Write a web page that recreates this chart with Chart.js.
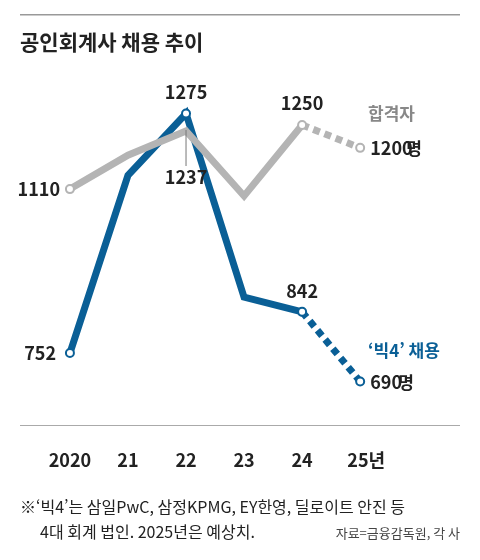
<!DOCTYPE html>
<html lang="ko">
<head>
<meta charset="UTF-8">
<script src="https://cdn.jsdelivr.net/npm/chart.js"></script>
<style>
  body { margin: 0; background: #fff; }
  #wrap { position: relative; width: 480px; height: 560px; }
</style>
</head>
<body>
<div id="wrap"><canvas id="chart" width="480" height="560"></canvas></div>
<script>
const years = [2020, 2021, 2022, 2023, 2024, 2025];
const yearLabels = ['2020', '21', '22', '23', '24', '25년'];
const passed = [1110, 1184, 1237, 1095, 1250, 1200];   // 합격자
const big4 = [752, 1140, 1275, 874, 842, 690];          // '빅4' 채용

const gray = '#b4b4b4';
const blue = '#0a5f96';
const numFont = 'bold 18px "Liberation Sans Narrow", "Noto Sans CJK KR", sans-serif';
const korFont = 'bold 17px "Noto Sans CJK KR", sans-serif';

function pts(arr) { return arr.map((v, i) => ({ x: years[i], y: v })); }

const decor = {
  id: 'decor',
  afterDraw(chart) {
    const c = chart.ctx, xs = chart.scales.x, ys = chart.scales.y;
    const X = i => xs.getPixelForValue(years[i]);
    const Y = v => ys.getPixelForValue(v);
    c.save();
    // top rule & title
    c.fillStyle = '#999'; c.fillRect(20, 14, 440, 1.5);
    c.fillStyle = '#222'; c.font = 'bold 21px "Noto Sans CJK KR", sans-serif';
    c.textBaseline = 'alphabetic'; c.textAlign = 'left';
    c.fillText('공인회계사 채용 추이', 20, 50);
    // axis
    c.fillStyle = '#aaa'; c.fillRect(20, 425, 440, 1);
    c.fillStyle = '#222'; c.font = numFont; c.textAlign = 'center';
    yearLabels.forEach((t, i) => c.fillText(t, X(i) + (i === 5 ? 6 : 0), 467));
    // value labels
    c.fillStyle = '#222';
    c.fillText('1275', X(2), 99);
    c.fillText('1237', X(2), 184);
    c.fillStyle = '#777'; c.fillRect(X(2) - 0.5, 130, 1, 36); c.fillStyle = '#222';
    c.textAlign = 'right'; c.fillText('1110', 60, 196); c.fillText('752', 56, 360);
    c.textAlign = 'center'; c.fillText('1250', X(4), 110); c.fillText('842', X(4), 298);
    c.textAlign = 'left'; c.fillText('1200', X(5) + 10, 155); c.fillText('690', X(5) + 10, 389);
    c.font = korFont;
    c.fillText('명', X(5) + 46, 155); c.fillText('명', X(5) + 38, 389);
    c.fillStyle = '#888'; c.fillText('합격자', 368, 120);
    c.fillStyle = blue; c.fillText('‘빅4’ 채용', 368, 357);
    // footnote
    c.fillStyle = '#222'; c.font = '16px "Noto Sans CJK KR", sans-serif';
    c.fillText('※‘빅4’는 삼일PwC, 삼정KPMG, EY한영, 딜로이트 안진 등', 20, 513);
    c.fillText('4대 회계 법인. 2025년은 예상치.', 40, 538);
    c.font = '13px "Noto Sans CJK KR", sans-serif'; c.fillStyle = '#444';
    c.textAlign = 'right'; c.fillText('자료=금융감독원, 각 사', 460, 538);
    c.restore();
  }
};

function ds(data, color, radii) {
  return {
    data: pts(data), borderColor: color, borderWidth: 7,
    pointRadius: radii, pointBackgroundColor: '#fff', pointBorderColor: color,
    pointBorderWidth: 2, tension: 0,
    segment: { borderDash: ctx => ctx.p0DataIndex === 4 ? [7, 5] : undefined }
  };
}

new Chart(document.getElementById('chart'), {
  type: 'line',
  data: { datasets: [
    ds(passed, gray, [4, 0, 0, 0, 4, 4]),
    ds(big4, blue, [4, 0, 4, 0, 4, 4])
  ] },
  options: {
    responsive: false, animation: false,
    layout: { padding: { left: 20, right: 20, top: 70, bottom: 135 } },
    plugins: { legend: { display: false }, tooltip: { enabled: false } },
    scales: {
      x: { type: 'linear', display: false, min: 2019.14, max: 2026.72 },
      y: { display: false, min: 595, max: 1370 }
    }
  },
  plugins: [decor]
});
</script>
</body>
</html>
